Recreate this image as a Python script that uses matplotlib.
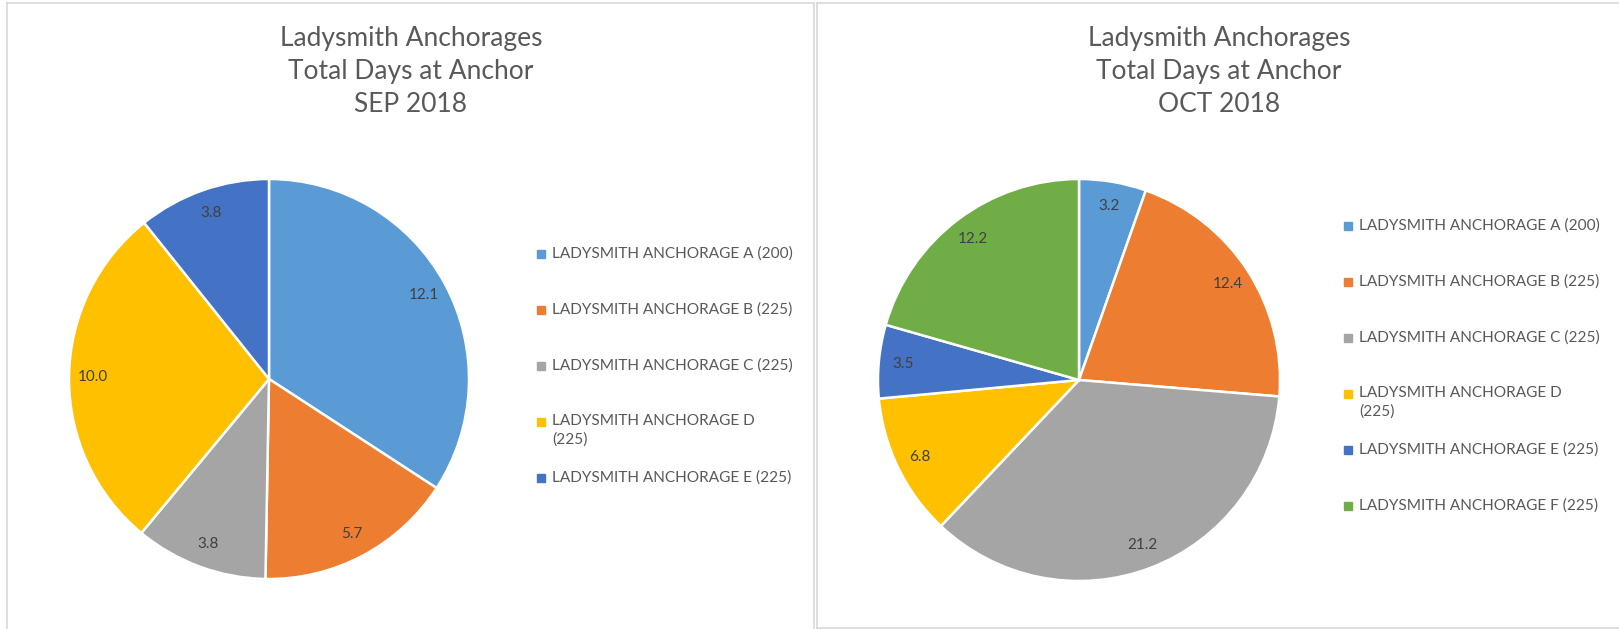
import matplotlib
matplotlib.use("Agg")
import matplotlib.pyplot as plt
from matplotlib.patches import Rectangle
from matplotlib.lines import Line2D

plt.rcParams['font.family'] = ['Lato', 'DejaVu Sans']

# data
sep_labels = ["LADYSMITH ANCHORAGE A (200)", "LADYSMITH ANCHORAGE B (225)",
              "LADYSMITH ANCHORAGE C (225)", "LADYSMITH ANCHORAGE D\n(225)",
              "LADYSMITH ANCHORAGE E (225)"]
sep_days = [12.1, 5.7, 3.8, 10.0, 3.8]

oct_labels = ["LADYSMITH ANCHORAGE A (200)", "LADYSMITH ANCHORAGE B (225)",
              "LADYSMITH ANCHORAGE C (225)", "LADYSMITH ANCHORAGE D\n(225)",
              "LADYSMITH ANCHORAGE E (225)", "LADYSMITH ANCHORAGE F (225)"]
oct_days = [3.2, 12.4, 21.2, 6.8, 3.5, 12.2]

colors = ["#5B9BD5", "#ED7D31", "#A5A5A5", "#FFC000", "#4472C4", "#70AD47"]
titles = ["Ladysmith Anchorages\nTotal Days at Anchor\nSEP 2018",
          "Ladysmith Anchorages\nTotal Days at Anchor\nOCT 2018"]

W, H = 1619, 629
fig = plt.figure(figsize=(W / 100, H / 100), dpi=100)


def fx(px):
    return px / W


def fy(py):
    return 1 - py / H


# panel borders
border = "#D9D9D9"
fig.add_artist(Line2D([fx(7), fx(7)], [fy(3), 0], color=border, lw=1.2))
fig.add_artist(Line2D([fx(7), fx(814)], [fy(3), fy(3)], color=border, lw=1.2))
fig.add_artist(Line2D([fx(814), fx(814)], [fy(3), 0], color=border, lw=1.2))
fig.add_artist(Line2D([fx(817), fx(817)], [fy(3), fy(628)], color=border, lw=1.2))
fig.add_artist(Line2D([fx(817), 1], [fy(3), fy(3)], color=border, lw=1.2))
fig.add_artist(Line2D([fx(817), 1], [fy(628), fy(628)], color=border, lw=1.2))


def draw_panel(values, labels, title, cx, cy, r, title_x, leg_x, leg_y0):
    ax = fig.add_axes([fx(cx - r), fy(cy + r), (2 * r) / W, (2 * r) / H])
    ax.pie(values, colors=colors[:len(values)], startangle=90, counterclock=False,
           labels=[f"{v:.1f}" for v in values], labeldistance=0.88,
           wedgeprops=dict(edgecolor="white", linewidth=1.8),
           textprops=dict(color="#404040", fontsize=11, ha="center", va="center"))
    ax.set_xlim(-1, 1)
    ax.set_ylim(-1, 1)
    ax.set_aspect("equal")

    fig.text(fx(title_x), fy(26), title, ha="center", va="top", fontsize=19,
             color="#595959", linespacing=1.4)

    step = 56
    for i, lab in enumerate(labels):
        y = leg_y0 + i * step
        fig.add_artist(Rectangle((fx(leg_x - 4), fy(y + 4)), 8 / W, 8 / H,
                                 transform=fig.transFigure, color=colors[i]))
        fig.text(fx(leg_x + 11), fy(y - 8), lab, ha="left", va="top",
                 fontsize=11.1, color="#595959", linespacing=1.4)


draw_panel(sep_days, sep_labels, titles[0], 269, 379, 200, 411, 541, 254)
draw_panel(oct_days, oct_labels, titles[1], 1079, 380, 201, 1219, 1348, 226)

fig.savefig("out.png", dpi=100, facecolor="white")
